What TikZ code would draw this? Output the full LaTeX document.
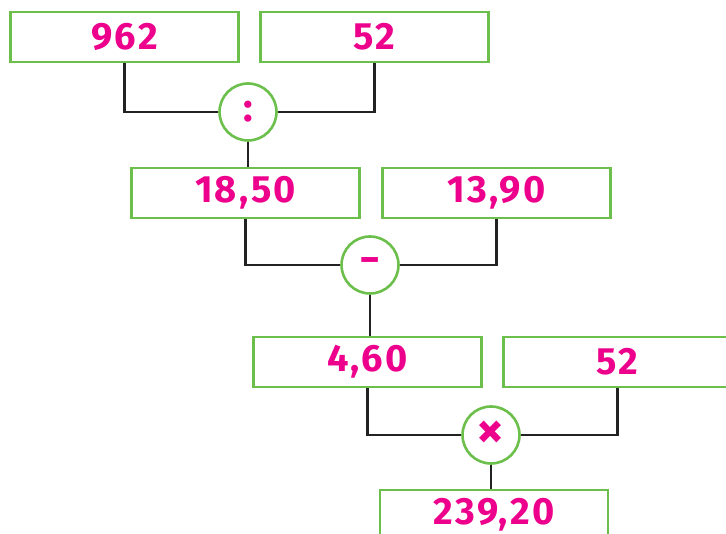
\documentclass[tikz,border=0pt]{standalone}
\usepackage{fontspec}
\setmainfont{Fira Sans}
\newfontfamily\numfont[LetterSpace=6]{Fira Sans}
\usepackage{xcolor}
\usepackage{tikz}
\usetikzlibrary{positioning}

\definecolor{boxgreen}{HTML}{6CBF4A}
\definecolor{numpink}{HTML}{EC008C}
\definecolor{wire}{HTML}{222222}

\tikzset{
  numbox/.style={draw=boxgreen, line width=2.6pt, fill=white, minimum width=228pt,
    minimum height=50pt, inner sep=0pt, text=numpink, font=\numfont\fontsize{38}{40}\selectfont\bfseries},
  opnode/.style={circle, draw=boxgreen, line width=2.6pt, fill=white, minimum size=57pt,
    inner sep=0pt, text=numpink, font=\fontsize{40}{42}\selectfont\bfseries},
  link/.style={draw=wire, line width=2.4pt}
}

\begin{document}
\begin{tikzpicture}[x=1pt,y=-1pt]
       \useasboundingbox (0,0) rectangle (726,534);
       \clip (0,0) rectangle (726,534);

       % first step
       \node[numbox] (n1) at (124.5,37) {962};
       \node[numbox] (n2) [right=19.5pt of n1] {52};
       \node[opnode] (op1) at (248,112) {:};

       % second step
       \node[numbox] (n3) [below=25pt of op1, xshift=-2.5pt] {18,50};
       \node[numbox] (n4) [right=20.5pt of n3] {13,90};
       \node[opnode] (op2) at (370,265) {\scalebox{1.3}[1]{-}};

       % third step
       \node[numbox] (n5) [below=41pt of op2, xshift=-2.5pt] {4,60};
       \node[numbox] (n6) [right=19.5pt of n5] {52};
       \node[opnode, font=\fontsize{54}{56}\selectfont\bfseries] (op3) at (491,435) {×};

       \node[numbox] (n7) [below=24pt of op3, xshift=3pt] {239,20};

       \path[link]
       (n1.south) |- (op1)
       (n2.south) |- (op1)
       (op1) -- (op1 |- n3.north)
       (n3.south) |- (op2)
       (n4.south) |- (op2)
       (op2) -- (op2 |- n5.north)
       (n5.south) |- (op3)
       (n6.south) |- (op3)
       (op3) -- (op3 |- n7.north);
    \end{tikzpicture}
\end{document}
